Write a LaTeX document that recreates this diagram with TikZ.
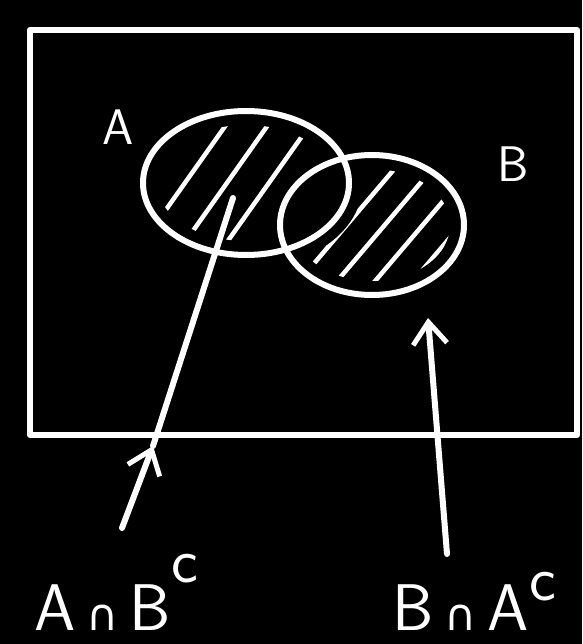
\documentclass[tikz,border=0pt]{standalone}
\usepackage{fontspec}
\newfontfamily\capfont{DejaVu Sans}
\usetikzlibrary{arrows.meta,shapes.geometric}
\tikzset{
  chalk/.style={draw=white, line width=6pt, line cap=round, line join=round},
  hatch/.style={draw=white, line width=4.5pt, line cap=round},
  pointer/.style={chalk, -{Straight Barb[length=22pt, width=34pt, line width=5pt]}},
  setname/.style={text=white, inner sep=0pt, font=\fontsize{50}{54}\selectfont\sffamily},
  eventname/.style={text=white, inner sep=0pt, anchor=base, font=\fontsize{66}{70}\selectfont\sffamily}
}
\newcommand{\setApath}[1]{(246,183) ellipse [x radius=103-#1, y radius=72-#1]}
\newcommand{\setBpath}[1]{(372,225) ellipse [x radius=92-#1, y radius=70-#1]}
\newcommand{\capsym}{\,{\capfont\fontsize{44}{44}\selectfont ∩}\,}
\newcommand{\compl}[1]{\raisebox{#1}{\fontsize{64}{64}\selectfont c}}

\begin{document}
\begin{tikzpicture}[x=1pt, y=-1pt]
% black board
\fill[black] (0,0) rectangle (582,644);
\useasboundingbox (0,0) rectangle (582,644);

% sample space
\node[chalk, rectangle, minimum width=547pt, minimum height=405pt] (omega) at (303.5,232.5) {};

% the two events
\node[chalk, ellipse, minimum width=206pt, minimum height=144pt] (setA) at (246,183) {};
\node[chalk, ellipse, minimum width=184pt, minimum height=140pt] (setB) at (372,225) {};
\node[setname] (nameA) at (118,127) {A};
\node[setname] (nameB) at (513,164) {B};

% hatching of A minus B
\begin{scope}[even odd rule]
  \clip \setApath{14};
  \clip (0,0) rectangle (582,644) \setBpath{-14};
  \foreach \x in {60,102,...,400}
    \draw[hatch] (\x,300) -- (\x+170,60);
\end{scope}
% hatching of B minus A
\begin{scope}[even odd rule]
  \clip \setBpath{14};
  \clip (0,0) rectangle (582,644) \setApath{-14};
  \foreach \x in {190,228,...,520}
    \draw[hatch] (\x,320) -- (\x+170,120);
\end{scope}

% labels and pointers
\node[eventname] (labAnotB) at (116,630) {A\capsym B\compl{48pt}};
\node[eventname] (labBnotA) at (474,630) {B\capsym A\compl{30pt}};
\coordinate (tipA) at (153,446);
\coordinate (endA) at (233,198);
\coordinate (tipB) at (428,318);
\draw[pointer] (122,528) -- (tipA);
\draw[chalk] (tipA) -- (endA);
\draw[pointer] (447,554) -- (tipB);
\end{tikzpicture}
\end{document}
